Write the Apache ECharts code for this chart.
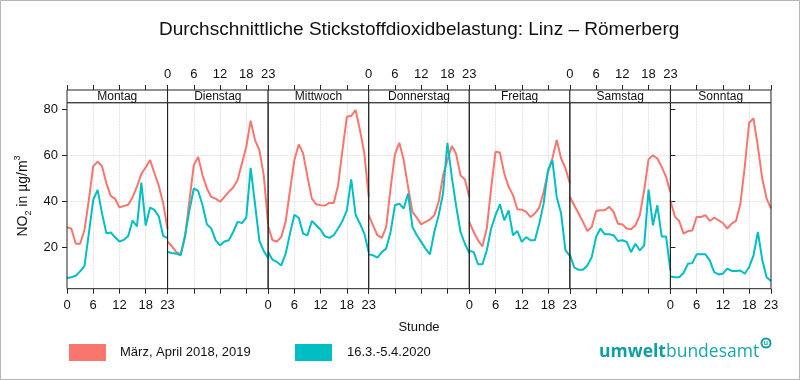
<!DOCTYPE html>
<html>
<head>
<meta charset="utf-8">
<script src="https://cdn.jsdelivr.net/npm/echarts@6/dist/echarts.min.js"></script>
<style>html,body{margin:0;padding:0;background:#fff}#c{width:800px;height:380px}</style>
</head>
<body>
<div id="c"></div>
<script>
// ---- data ----
const days = ['Montag','Dienstag','Mittwoch','Donnerstag','Freitag','Samstag','Sonntag'];
const hours = [0,1,2,3,4,5,6,7,8,9,10,11,12,13,14,15,16,17,18,19,20,21,22,23];
const xTickLabels = [0,6,12,18,23];
const yTickLabels = [20,40,60,80];
const nameRed = 'März, April 2018, 2019';
const nameTeal = '16.3.-5.4.2020';

const redMo = [28.9,28.2,21.7,21.7,27.7,40.7,55.4,57.3,55.4,47.9,42.5,41.2,37.5,38.1,38.6,41.9,46.5,52,54.9,58,52.3,46.8,39.3,28];
const redDi = [22.6,20.6,18.1,17.1,24.6,40.6,55.8,59.4,51.4,45.7,42,41.3,39.9,42,44.2,46.1,49.3,56.5,63.8,75.1,66.7,62.3,51.4,30];
const redMi = [29.3,23.2,22.7,24.6,31.2,44.9,58,64.8,60.9,50.7,41.3,38.8,38.4,38.3,39.4,39.4,47.1,62.3,76.8,77.2,79.7,71,60.9,42];
const redDo = [34.1,29.7,25.4,24.3,29,45.7,60.6,65.5,58,46.4,35.5,33,30.1,31.2,32.2,34.1,39.9,51.4,58,64.1,60.6,51.4,49.6,42];
const redFr = [31.2,26.8,23.2,20.6,28.3,45.7,61.6,61.3,52.2,46.4,42.8,36.7,36.5,35.5,33.3,34.8,37.4,44.2,52.9,58.7,66.7,58.7,54.4,48];
const redSa = [42,38.4,34.8,31.2,27.2,29,35.9,36.2,36.2,37.7,35.5,30.4,30.1,28.3,28,29.7,34.1,44.9,58.3,60.1,58.7,55.1,50.7,44];
const redSo = [40.5,33.6,31.6,26.1,27.2,27.5,33.3,33.3,34.1,31.6,33,31.9,30.7,28.3,30.4,31.6,39.1,55.1,74.2,76.1,63.8,50,41.3,37];

const tealMo = [6.8,7.2,7.8,9.7,12.1,26.3,40.7,45.1,35,26.3,26.6,24.5,22.7,23.4,25.1,31.8,29.2,48.2,29.6,37.4,36.4,33.5,25.1,24.1];
const tealDi = [18.1,17.7,17.4,16.7,25.4,36.2,45.7,44.6,38.4,30.1,28.3,23.2,21,22.7,23.2,26.8,31.2,30.7,33,54.6,39,23,18.5,15.5];
const tealMi = [18.1,14.8,13.8,12.3,17.4,26.1,34.3,33,26.1,25.4,31.6,29.7,27.8,24.9,24.3,25.4,28.3,31.6,36.2,49.6,34.3,30.4,26.1,18];
const tealDo = [17.1,16.7,15.7,18.1,19.6,26.8,38.4,39.1,37,43.5,29,25.4,22.5,19.6,17.1,26.8,34.1,43.5,65.5,50.7,38,26.8,21.7,17.7];
const tealFr = [18.6,18.1,12.8,12.8,18.8,28.3,34.1,38.8,31.9,36.2,25.4,27.2,22.5,24.6,23.2,23.2,30.4,39.1,53.6,58,42,34.8,18.8,16.5];
const tealSa = [17,11.5,10.4,10.4,12.3,15.9,24.6,28.3,25.8,25.8,25.4,22.9,23.2,22.5,18.1,21.7,18.8,21,45.2,29.7,38.4,24.9,24.9,10];
const tealSo = [7.5,7.2,7.2,9,13,13.3,17.1,17.1,17.1,14.5,9.4,8.4,8.7,10.9,9.9,9.9,10.1,8.7,11.6,16.7,26.8,14.8,7.2,5.5];

const redDays = [redMo,redDi,redMi,redDo,redFr,redSa,redSo];
const tealDays = [tealMo,tealDi,tealMi,tealDo,tealFr,tealSa,tealSo];

// ---- layout / style ----
const RED = '#F8766D', TEAL = '#00BFC4';
const L = 67, PW = 100.57, TOP = 102.7, H = 186, STRIP = 12.7;
const YMIN = 2.2, YMAX = 82.9;
const FONT = '"Liberation Sans", Arial, sans-serif';
const AX = '#222';
const GRIDC = '#e2e2e2';

const grids = [], xAxes = [], yAxes = [], series = [], graphics = [];

days.forEach((d, i) => {
  grids.push({left: L + i*PW, top: TOP, width: PW, height: H, show: false});
  // bottom axis
  xAxes.push({type: 'value', gridIndex: i, min: 0, max: 23, interval: 6, position: 'bottom',
    axisLine: {show: false},
    axisTick: {show: true, customValues: xTickLabels, length: 5, lineStyle: {color: AX}},
    axisLabel: {show: i % 2 === 0, customValues: xTickLabels, margin: 10, fontSize: 13, color: '#111', fontFamily: FONT},
    splitLine: {show: true, showMinLine: false, showMaxLine: false, lineStyle: {color: GRIDC, width: 1, type: [2,1]}}
  });
  // top axis (above strip)
  xAxes.push({type: 'value', gridIndex: i, min: 0, max: 23, interval: 6, position: 'top', offset: STRIP,
    axisLine: {show: false},
    axisTick: {show: true, customValues: xTickLabels, length: 5, lineStyle: {color: AX}},
    axisLabel: {show: i % 2 === 1, customValues: xTickLabels, margin: 9, fontSize: 13, color: '#111', fontFamily: FONT},
    splitLine: {show: false}
  });
  yAxes.push({type: 'value', gridIndex: i, min: YMIN, max: YMAX, splitNumber: 4,
    axisLine: {show: false},
    axisTick: {show: i === 0, customValues: yTickLabels, length: 5, lineStyle: {color: AX}},
    axisLabel: {show: i === 0, customValues: yTickLabels, margin: 9, fontSize: 13, color: '#111', fontFamily: FONT},
    splitLine: {show: true, showMinLine: false, showMaxLine: false, lineStyle: {color: GRIDC, width: 1, type: [2,1]}}
  });
  // panel frame (drawn above grid lines)
  graphics.push({type: 'rect', shape: {x: L + i*PW, y: TOP, width: PW, height: H},
    style: {fill: 'none', stroke: AX, lineWidth: 1}, z: 5, silent: true});
  // strip
  graphics.push({type: 'rect', shape: {x: L + i*PW, y: TOP - STRIP, width: PW, height: STRIP},
    style: {fill: '#fff', stroke: AX, lineWidth: 1}, z: 10});
  graphics.push({type: 'text', x: L + i*PW + PW/2, y: TOP - STRIP/2,
    style: {text: d, fontSize: 12, fontFamily: FONT, fill: '#111', align: 'center', verticalAlign: 'middle'}, z: 11});
});
// right-side y ticks on last panel
yAxes.push({type: 'value', gridIndex: 6, min: YMIN, max: YMAX, splitNumber: 4, position: 'right',
  axisLine: {show: false},
  axisTick: {show: true, customValues: yTickLabels, length: 5, lineStyle: {color: AX}},
  axisLabel: {show: false}, splitLine: {show: false}});

days.forEach((d, i) => {
  series.push({type: 'line', name: nameRed, xAxisIndex: 2*i, yAxisIndex: i, color: RED,
    showSymbol: false, symbol: 'none', lineStyle: {width: 2, color: RED}, animation: false,
    data: hours.map((h, k) => [h, redDays[i][k]])});
});
days.forEach((d, i) => {
  series.push({type: 'line', name: nameTeal, xAxisIndex: 2*i, yAxisIndex: i, color: TEAL,
    showSymbol: false, symbol: 'none', lineStyle: {width: 2, color: TEAL}, animation: false,
    data: hours.map((h, k) => [h, tealDays[i][k]])});
});

// y axis title
graphics.push({type: 'text', x: 23, y: 196, rotation: Math.PI/2,
  style: {text: '{n|NO}{sub|2}{n| in µg/m}{sup|3}', align: 'center', verticalAlign: 'middle',
    fontFamily: FONT, fill: '#111',
    rich: {n: {fontSize: 14, lineHeight: 20, fontFamily: FONT, fill: '#111'},
           sub: {fontSize: 9, lineHeight: 9, verticalAlign: 'bottom', fontFamily: FONT, fill: '#111'},
           sup: {fontSize: 9, lineHeight: 9, verticalAlign: 'top', fontFamily: FONT, fill: '#111'}}}});
// x axis title
graphics.push({type: 'text', x: 419, y: 327,
  style: {text: 'Stunde', fontSize: 13, fontFamily: FONT, fill: '#111', align: 'center', verticalAlign: 'middle'}});
// logo
graphics.push({type: 'text', x: 599, y: 352,
  style: {text: '{b|umwelt}{r|bundesamt}', verticalAlign: 'middle', align: 'left',
    rich: {b: {fontSize: 17.5, fontWeight: 'bold', fontFamily: '"Open Sans", sans-serif', fill: '#0f9ea1'},
           r: {fontSize: 17.5, fontFamily: '"Open Sans", sans-serif', fill: '#1aa7aa'}}}});
graphics.push({type: 'circle', shape: {cx: 766, cy: 343, r: 4.5}, style: {fill: '#fff', stroke: '#0f9ea1', lineWidth: 2}});
graphics.push({type: 'text', x: 766, y: 343, style: {text: 'u', fontSize: 7, fontWeight: 'bold', fontFamily: FONT, fill: '#0f9ea1', align: 'center', verticalAlign: 'middle'}});
// outer frame
graphics.push({type: 'rect', shape: {x: 0.5, y: 0.5, width: 799, height: 379}, style: {fill: 'none', stroke: '#b5b5b5', lineWidth: 1}, z: 20});

const chart = echarts.init(document.getElementById('c'), null, {renderer: 'canvas'});
chart.setOption({
  animation: false,
  backgroundColor: '#fff',
  title: {text: 'Durchschnittliche Stickstoffdioxidbelastung: Linz – Römerberg', left: 159, top: 20, padding: 0,
    textStyle: {fontSize: 19, fontWeight: 'normal', color: '#111', fontFamily: FONT}},
  legend: [
    {data: [nameRed], left: 69, top: 344, padding: 0, icon: 'rect', itemWidth: 37, itemHeight: 17, selectedMode: false,
      textStyle: {fontSize: 13, color: '#111', fontFamily: FONT, padding: [0,0,0,9]}},
    {data: [nameTeal], left: 295, top: 344, padding: 0, icon: 'rect', itemWidth: 37, itemHeight: 17, selectedMode: false,
      textStyle: {fontSize: 13, color: '#111', fontFamily: FONT, padding: [0,0,0,10]}}
  ],
  grid: grids, xAxis: xAxes, yAxis: yAxes, series: series, graphic: graphics
});
</script>
</body>
</html>
